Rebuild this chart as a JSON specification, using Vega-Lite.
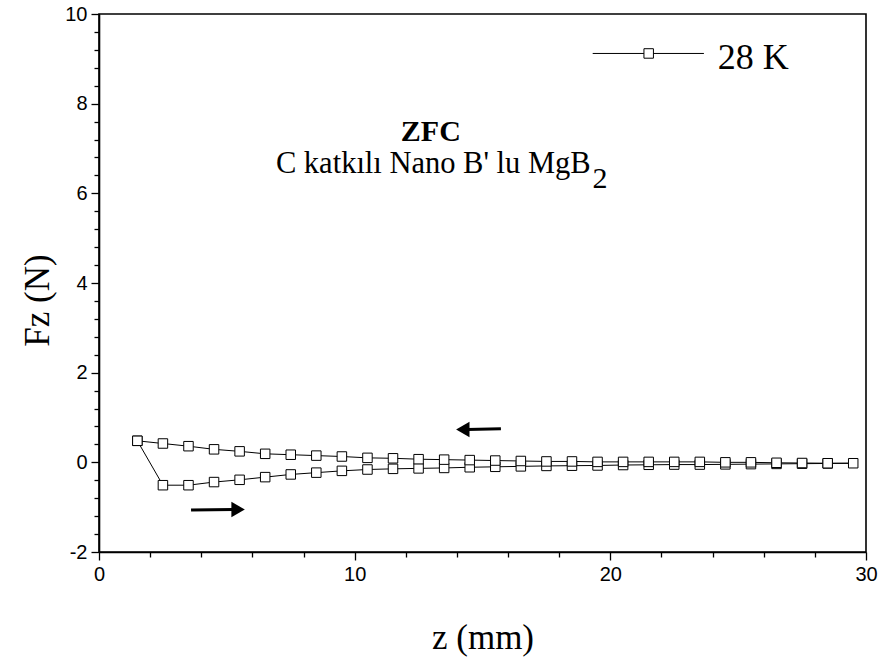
{
  "$schema": "https://vega.github.io/schema/vega-lite/v6.json",
  "width": 767,
  "height": 538,
  "autosize": "none",
  "padding": {"left": 99, "top": 14, "right": 13, "bottom": 110},
  "background": "white",
  "config": {
    "view": {"stroke": "black", "strokeWidth": 1.6},
    "axis": {
      "grid": false,
      "domainColor": "black",
      "domainWidth": 1.6,
      "tickColor": "black",
      "tickWidth": 1.3,
      "labelFont": "Liberation Sans",
      "labelFontSize": 20,
      "labelColor": "black",
      "labelOverlap": false,
      "labelFlush": false,
      "titleFont": "Liberation Serif",
      "titleFontSize": 35,
      "titleFontWeight": "normal",
      "titleColor": "black"
    }
  },
  "datasets": {
    "series": [
      {"order": 1, "z": 1.5, "fz": 0.48},
      {"order": 2, "z": 2.5, "fz": -0.51},
      {"order": 3, "z": 3.5, "fz": -0.51},
      {"order": 4, "z": 4.5, "fz": -0.44},
      {"order": 5, "z": 5.5, "fz": -0.39},
      {"order": 6, "z": 6.5, "fz": -0.33},
      {"order": 7, "z": 7.5, "fz": -0.27},
      {"order": 8, "z": 8.5, "fz": -0.23},
      {"order": 9, "z": 9.5, "fz": -0.19},
      {"order": 10, "z": 10.5, "fz": -0.16},
      {"order": 11, "z": 11.5, "fz": -0.145},
      {"order": 12, "z": 12.5, "fz": -0.135},
      {"order": 13, "z": 13.5, "fz": -0.125},
      {"order": 14, "z": 14.5, "fz": -0.11},
      {"order": 15, "z": 15.5, "fz": -0.1},
      {"order": 16, "z": 16.5, "fz": -0.09},
      {"order": 17, "z": 17.5, "fz": -0.08},
      {"order": 18, "z": 18.5, "fz": -0.075},
      {"order": 19, "z": 19.5, "fz": -0.07},
      {"order": 20, "z": 20.5, "fz": -0.06},
      {"order": 21, "z": 21.5, "fz": -0.055},
      {"order": 22, "z": 22.5, "fz": -0.05},
      {"order": 23, "z": 23.5, "fz": -0.05},
      {"order": 24, "z": 24.5, "fz": -0.045},
      {"order": 25, "z": 25.5, "fz": -0.04},
      {"order": 26, "z": 26.5, "fz": -0.035},
      {"order": 27, "z": 27.5, "fz": -0.03},
      {"order": 28, "z": 28.5, "fz": -0.025},
      {"order": 29, "z": 29.5, "fz": -0.02},
      {"order": 30, "z": 28.5, "fz": -0.02},
      {"order": 31, "z": 27.5, "fz": -0.015},
      {"order": 32, "z": 26.5, "fz": -0.01},
      {"order": 33, "z": 25.5, "fz": 0.0},
      {"order": 34, "z": 24.5, "fz": 0.0},
      {"order": 35, "z": 23.5, "fz": 0.01},
      {"order": 36, "z": 22.5, "fz": 0.01},
      {"order": 37, "z": 21.5, "fz": 0.01},
      {"order": 38, "z": 20.5, "fz": 0.01},
      {"order": 39, "z": 19.5, "fz": 0.01},
      {"order": 40, "z": 18.5, "fz": 0.02},
      {"order": 41, "z": 17.5, "fz": 0.02},
      {"order": 42, "z": 16.5, "fz": 0.03},
      {"order": 43, "z": 15.5, "fz": 0.04},
      {"order": 44, "z": 14.5, "fz": 0.05},
      {"order": 45, "z": 13.5, "fz": 0.06},
      {"order": 46, "z": 12.5, "fz": 0.07},
      {"order": 47, "z": 11.5, "fz": 0.09},
      {"order": 48, "z": 10.5, "fz": 0.1},
      {"order": 49, "z": 9.5, "fz": 0.13},
      {"order": 50, "z": 8.5, "fz": 0.15},
      {"order": 51, "z": 7.5, "fz": 0.17},
      {"order": 52, "z": 6.5, "fz": 0.19},
      {"order": 53, "z": 5.5, "fz": 0.245},
      {"order": 54, "z": 4.5, "fz": 0.29},
      {"order": 55, "z": 3.5, "fz": 0.36},
      {"order": 56, "z": 2.5, "fz": 0.42},
      {"order": 57, "z": 1.5, "fz": 0.48}
    ],
    "label": [{"name": "28 K"}]
  },
  "layer": [
    {
      "data": {"name": "series"},
      "mark": {"type": "line", "color": "black", "strokeWidth": 1, "clip": true},
      "encoding": {
        "x": {
          "field": "z", "type": "quantitative",
          "scale": {"domain": [0, 30], "nice": false, "zero": false},
          "axis": {
            "title": "z (mm)",
            "values": [0, 2, 4, 6, 8, 10, 12, 14, 16, 18, 20, 22, 24, 26, 28, 30],
            "tickCount": 100,
            "labelExpr": "datum.value % 10 === 0 ? toString(datum.value) : ''",
            "tickSize": {"condition": {"test": "datum.value % 10 === 0", "value": 8}, "value": 5},
            "labelPadding": 4,
            "titleX": 383.5,
            "titleY": 96,
            "titleBaseline": "alphabetic",
            "titleAlign": "center"
          }
        },
        "y": {
          "field": "fz", "type": "quantitative",
          "scale": {"domain": [-2, 10], "nice": false, "zero": false},
          "axis": {
            "title": "Fz (N)",
            "values": [-2, -1.6, -1.2, -0.8, -0.4, 0, 0.4, 0.8, 1.2, 1.6, 2, 2.4, 2.8, 3.2, 3.6, 4, 4.4, 4.8, 5.2, 5.6, 6, 6.4, 6.8, 7.2, 7.6, 8, 8.4, 8.8, 9.2, 9.6, 10],
            "tickCount": 100,
            "labelExpr": "abs(datum.value % 2) < 0.01 ? toString(datum.value) : ''",
            "tickSize": {"condition": {"test": "abs(datum.value % 2) < 0.01", "value": 8}, "value": 5},
            "labelPadding": 4,
            "titleAngle": 270,
            "titleAlign": "center",
            "titleBaseline": "middle",
            "titleX": -62,
            "titleY": 286
          }
        },
        "order": {"field": "order", "type": "quantitative"}
      }
    },
    {
      "data": {"name": "series"},
      "mark": {"type": "point", "shape": "square", "size": 90, "filled": true, "fill": "white", "stroke": "black", "strokeWidth": 1, "opacity": 1},
      "encoding": {
        "x": {"field": "z", "type": "quantitative"},
        "y": {"field": "fz", "type": "quantitative"}
      }
    },
    {
      "data": {"name": "label"},
      "mark": {"type": "rule", "color": "black", "strokeWidth": 1},
      "encoding": {
        "x": {"datum": 19.31}, "x2": {"datum": 23.66},
        "y": {"datum": 9.12}
      }
    },
    {
      "data": {"name": "label"},
      "mark": {"type": "point", "shape": "square", "size": 90, "filled": true, "fill": "white", "stroke": "black", "strokeWidth": 1, "opacity": 1},
      "encoding": {
        "x": {"datum": 21.5},
        "y": {"datum": 9.12}
      }
    },
    {
      "data": {"name": "label"},
      "mark": {"type": "text", "font": "Liberation Serif", "fontSize": 36, "align": "left", "baseline": "middle", "color": "black"},
      "encoding": {
        "x": {"datum": 24.2},
        "y": {"datum": 9.02},
        "text": {"field": "name"}
      }
    },
    {
      "data": {"values": [{"t": "ZFC"}]},
      "mark": {"type": "text", "font": "Liberation Serif", "fontSize": 30, "fontWeight": "bold", "align": "center", "baseline": "alphabetic", "color": "black"},
      "encoding": {
        "x": {"datum": 12.98},
        "y": {"datum": 7.16},
        "text": {"field": "t"}
      }
    },
    {
      "data": {"values": [{"t": "C katkılı Nano B' lu MgB"}]},
      "mark": {"type": "text", "font": "Liberation Serif", "fontSize": 30.5, "align": "right", "baseline": "alphabetic", "color": "black"},
      "encoding": {
        "x": {"datum": 19.23},
        "y": {"datum": 6.45},
        "text": {"field": "t"}
      }
    },
    {
      "data": {"values": [{"t": "2"}]},
      "mark": {"type": "text", "font": "Liberation Serif", "fontSize": 30, "align": "left", "baseline": "alphabetic", "color": "black"},
      "encoding": {
        "x": {"datum": 19.3},
        "y": {"datum": 6.13},
        "text": {"field": "t"}
      }
    },
    {
      "data": {"values": [{"a": 1}]},
      "mark": {"type": "rule", "color": "black", "strokeWidth": 3},
      "encoding": {
        "x": {"datum": 3.6}, "x2": {"datum": 5.25},
        "y": {"datum": -1.065}, "y2": {"datum": -1.05}
      }
    },
    {
      "data": {"values": [{"a": 1}]},
      "mark": {"type": "point", "shape": "triangle-right", "size": 240, "filled": true, "color": "black", "opacity": 1},
      "encoding": {
        "x": {"datum": 5.44},
        "y": {"datum": -1.05}
      }
    },
    {
      "data": {"values": [{"a": 1}]},
      "mark": {"type": "rule", "color": "black", "strokeWidth": 3},
      "encoding": {
        "x": {"datum": 14.4}, "x2": {"datum": 15.72},
        "y": {"datum": 0.735}, "y2": {"datum": 0.75}
      }
    },
    {
      "data": {"values": [{"a": 1}]},
      "mark": {"type": "point", "shape": "triangle-left", "size": 240, "filled": true, "color": "black", "opacity": 1},
      "encoding": {
        "x": {"datum": 14.23},
        "y": {"datum": 0.735}
      }
    }
  ]
}
